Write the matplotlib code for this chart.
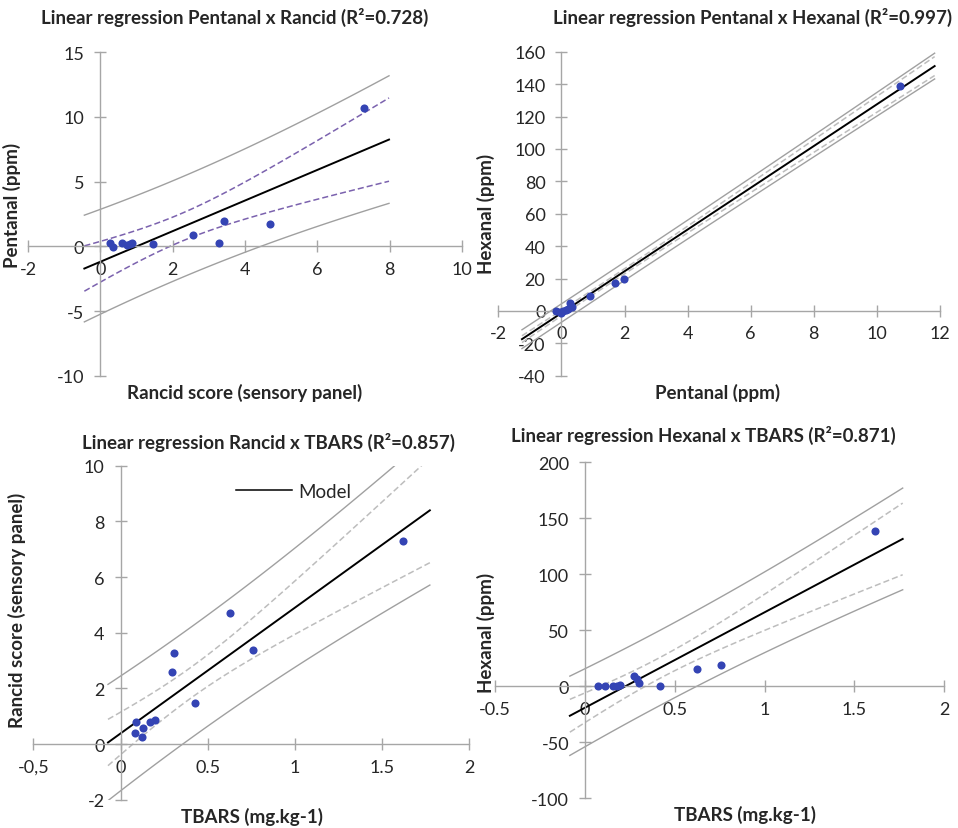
import numpy as np
import matplotlib
matplotlib.use("Agg")
import matplotlib.pyplot as plt

plt.rcParams['font.family'] = ['Lato', 'DejaVu Sans']

# data
rancid_1 = [0.26, 0.35, 0.6, 0.74, 0.82, 0.88, 1.47, 2.55, 3.27, 3.41, 4.68, 7.28]
pentanal_1 = [0.26, -0.05, 0.26, 0.13, 0.22, 0.26, 0.2, 0.9, 0.3, 1.94, 1.73, 10.7]

pentanal_2 = [-0.16, -0.05, 0.0, 0.05, 0.13, 0.2, 0.26, 0.34, 0.9, 1.69, 1.99, 10.74]
hexanal_2 = [0.0, -0.5, -1.0, 0.0, 0.5, 1.0, 4.6, 2.5, 8.9, 17.1, 19.6, 138.6]

tbars_3 = [0.082, 0.088, 0.126, 0.13, 0.168, 0.2, 0.294, 0.304, 0.43, 0.63, 0.76, 1.62]
rancid_3 = [0.4, 0.78, 0.26, 0.57, 0.78, 0.87, 2.6, 3.28, 1.47, 4.69, 3.39, 7.3]

tbars_4 = [0.07, 0.113, 0.158, 0.18, 0.195, 0.273, 0.288, 0.3, 0.42, 0.625, 0.757, 1.614]
hexanal_4 = [0.6, 0.0, 0.6, 0.0, 1.5, 9.5, 6.6, 3.0, 0.6, 15.8, 19.1, 138.8]

titles = ["Linear regression Pentanal x Rancid (R²=0.728)",
          "Linear regression Pentanal x Hexanal (R²=0.997)",
          "Linear regression Rancid x TBARS (R²=0.857)",
          "Linear regression Hexanal x TBARS (R²=0.871)"]
xlabels = ["Rancid score (sensory panel)", "Pentanal (ppm)", "TBARS (mg.kg-1)", "TBARS (mg.kg-1)"]
ylabels = ["Pentanal (ppm)", "Hexanal (ppm)", "Rancid score (sensory panel)", "Hexanal (ppm)"]

xticks_1 = [-2, 0, 2, 4, 6, 8, 10]
yticks_1 = [-10, -5, 0, 5, 10, 15]
xticks_2 = [-2, 0, 2, 4, 6, 8, 10, 12]
yticks_2 = [-40, -20, 0, 20, 40, 60, 80, 100, 120, 140, 160]
xticks_3 = [-0.5, 0, 0.5, 1, 1.5, 2]
xticklabels_3 = ["-0,5", "0", "0.5", "1", "1.5", "2"]
yticks_3 = [-2, 0, 2, 4, 6, 8, 10]
xticks_4 = [-0.5, 0, 0.5, 1, 1.5, 2]
xticklabels_4 = ["-0.5", "0", "0.5", "1", "1.5", "2"]
yticks_4 = [-100, -50, 0, 50, 100, 150, 200]

W, H = 958, 829
fig = plt.figure(figsize=(W / 100, H / 100), dpi=100)


def box(l, r, t, b):
    return [l / W, 1 - b / H, (r - l) / W, (b - t) / H]


def fx(x):
    return x / W


def fy(y):
    return 1 - y / H


axis_grey = '#A6A6A6'
band_grey = '#A0A0A0'
dot_blue = '#3444B4'
text_col = '#262626'


def panel(rect, x, y, xticks, yticks, xticklabels=None, conf_color='#BDBDBD'):
    ax = fig.add_axes(rect)
    x = np.array(x)
    y = np.array(y)
    n = len(x)
    slope, icpt = np.polyfit(x, y, 1)
    resid = y - (slope * x + icpt)
    s = np.sqrt(np.sum(resid ** 2) / (n - 2))
    sxx = np.sum((x - x.mean()) ** 2)
    t = {9: 2.262, 10: 2.228}[n - 2]
    span = x.max() - x.min()
    xs = np.linspace(x.min() - 0.1 * span, x.max() + 0.1 * span, 100)
    fit = slope * xs + icpt
    se_mean = s * np.sqrt(1 / n + (xs - x.mean()) ** 2 / sxx)
    se_pred = s * np.sqrt(1 + 1 / n + (xs - x.mean()) ** 2 / sxx)

    ax.plot(xs, fit + t * se_pred, color=band_grey, lw=1)
    ax.plot(xs, fit - t * se_pred, color=band_grey, lw=1)
    ax.plot(xs, fit + t * se_mean, color=conf_color, lw=1.1, ls=(0, (4, 2)))
    ax.plot(xs, fit - t * se_mean, color=conf_color, lw=1.1, ls=(0, (4, 2)))
    line, = ax.plot(xs, fit, color='black', lw=1.4, label='Model')
    ax.scatter(x, y, s=34, color=dot_blue, zorder=5, linewidths=0)

    ax.set_xlim(xticks[0], xticks[-1])
    ax.set_ylim(yticks[0], yticks[-1])
    ax.set_xticks(xticks)
    ax.set_yticks(yticks)
    if xticklabels is None:
        xticklabels = [str(v) for v in xticks]
    ax.set_xticklabels(xticklabels)
    ax.set_yticklabels([str(v) for v in yticks])
    for side in ['top', 'right']:
        ax.spines[side].set_visible(False)
    ax.spines['left'].set_position(('data', 0))
    ax.spines['bottom'].set_position(('data', 0))
    for side in ['left', 'bottom']:
        ax.spines[side].set_color(axis_grey)
        ax.spines[side].set_linewidth(1)
    ax.tick_params(direction='inout', length=9, width=1, color=axis_grey,
                   labelsize=13, labelcolor=text_col)
    ax.tick_params(axis='y', pad=7)
    ax.tick_params(axis='x', pad=6)
    ax.patch.set_visible(False)
    return ax, line


ax1, _ = panel(box(28, 462, 53, 377), rancid_1, pentanal_1, xticks_1, yticks_1,
               conf_color='#7B62AE')
ax2, _ = panel(box(498.3, 940, 52.7, 376.7), pentanal_2, hexanal_2, xticks_2, yticks_2)
ax3, model_line = panel(box(33.3, 469.3, 466.7, 800.7), tbars_3, rancid_3, xticks_3, yticks_3,
                        xticklabels=xticklabels_3)
ax4, _ = panel(box(495.2, 944.3, 463.3, 799.3), tbars_4, hexanal_4, xticks_4, yticks_4,
               xticklabels=xticklabels_4)

leg = ax3.legend(handles=[model_line], loc='upper left', bbox_to_anchor=(fx(236), fy(484)),
                 bbox_transform=fig.transFigure, frameon=False, fontsize=13.5,
                 handlelength=3.0, handletextpad=0.3, borderaxespad=0, borderpad=0)
leg.get_lines()[0].set_linewidth(1.1)
for txt in leg.get_texts():
    txt.set_color(text_col)

# titles and axis labels (pixel positions from the reference)
title_pos = [(235, 17), (753, 17), (269, 442), (703, 435)]
xlab_pos = [(245, 393), (718, 393), (252, 817), (745, 815)]
ylab_pos = [(12, 205), (486, 214), (17, 610), (486, 633)]
for i in range(4):
    fig.text(fx(title_pos[i][0]), fy(title_pos[i][1]), titles[i], ha='center', va='center',
             fontsize=13.5, fontweight='bold', color=text_col)
    fig.text(fx(xlab_pos[i][0]), fy(xlab_pos[i][1]), xlabels[i], ha='center', va='center',
             fontsize=13.5, fontweight='bold', color=text_col)
    fig.text(fx(ylab_pos[i][0]), fy(ylab_pos[i][1]), ylabels[i], ha='center', va='center',
             rotation=90, fontsize=13.5, fontweight='bold', color=text_col)

fig.savefig('out.png', dpi=100)
